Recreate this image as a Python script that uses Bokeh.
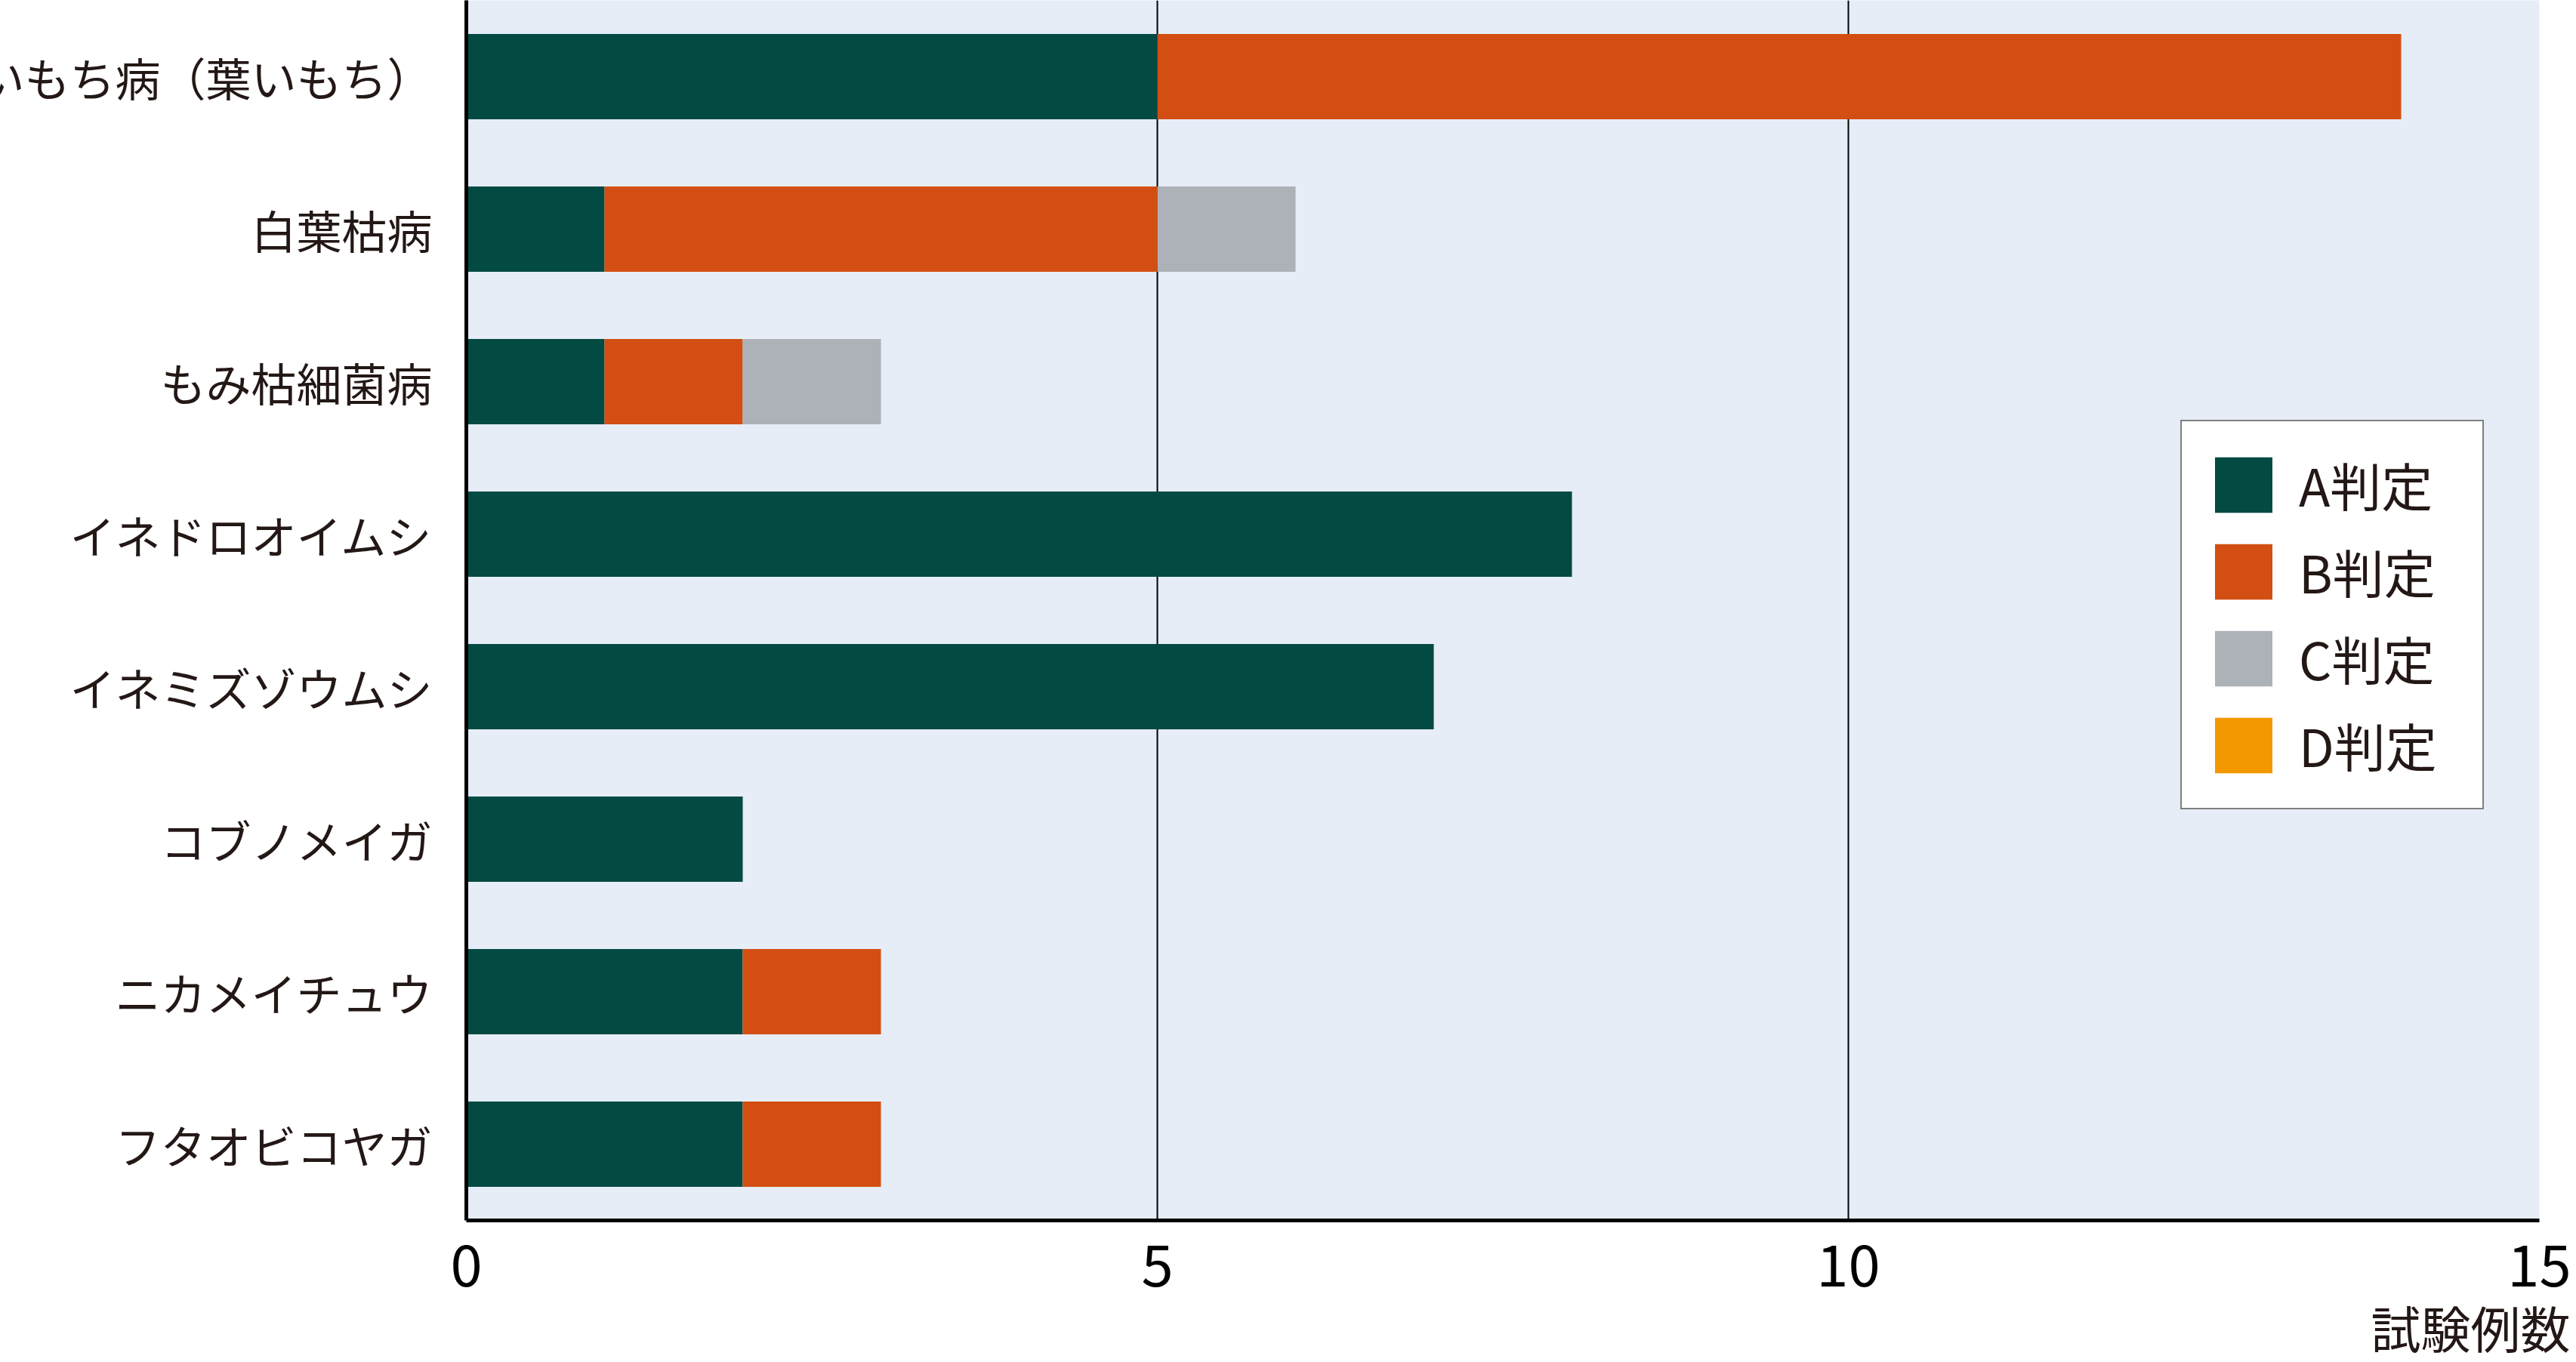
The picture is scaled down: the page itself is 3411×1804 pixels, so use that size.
from bokeh.plotting import figure
from bokeh.models import FactorRange, Range1d, FixedTicker, ColumnDataSource, Title
from bokeh.embed import file_html
from bokeh.resources import INLINE

categories = ["いもち病（葉いもち）", "白葉枯病", "もみ枯細菌病", "イネドロオイムシ",
              "イネミズゾウムシ", "コブノメイガ", "ニカメイチュウ", "フタオビコヤガ"]
a_vals = [5, 1, 1, 8, 7, 2, 2, 2]
b_vals = [9, 4, 1, 0, 0, 0, 1, 1]
c_vals = [0, 1, 1, 0, 0, 0, 0, 0]
d_vals = [0, 0, 0, 0, 0, 0, 0, 0]
series = ["A判定", "B判定", "C判定", "D判定"]
colors = ["#034a43", "#d34e12", "#adb1b8", "#f39800"]
x_ticks = [0, 5, 10, 15]
x_title = "試験例数"

FONT = "Noto Sans CJK JP"
TXT = "#231815"

source = ColumnDataSource(dict(cat=categories, A=a_vals, B=b_vals, C=c_vals, D=d_vals))

p = figure(
    y_range=FactorRange(factors=list(reversed(categories)), range_padding=0),
    x_range=Range1d(0, 15),
    frame_width=2745, height=1804,
    min_border_left=0, min_border_right=48, min_border_top=0, min_border_bottom=0,
    output_backend="svg", toolbar_location=None,
)
p.styles = {"margin-left": "-31px"}

p.hbar_stack(["A", "B", "C", "D"], y="cat", height=0.56, color=colors,
             line_color=None, source=source, legend_label=series)

p.background_fill_color = "#e6edf7"
p.border_fill_color = "white"
p.outline_line_color = None

p.xgrid.ticker = FixedTicker(ticks=[5, 10, 15])
p.xgrid.grid_line_color = "black"
p.xgrid.grid_line_width = 2
p.ygrid.grid_line_color = None

p.xaxis.ticker = FixedTicker(ticks=x_ticks)
for ax in (p.xaxis[0], p.yaxis[0]):
    ax.axis_line_color = "black"
    ax.axis_line_width = 5
    ax.major_tick_out = 0
    ax.major_tick_in = 0
    ax.minor_tick_out = 0
    ax.minor_tick_in = 0
p.xaxis.major_label_text_font = FONT
p.xaxis.major_label_text_font_size = "76px"
p.xaxis.major_label_text_color = "black"
p.xaxis.major_label_standoff = 31
p.yaxis.major_label_text_font = FONT
p.yaxis.major_label_text_font_size = "60px"
p.yaxis.major_label_text_color = TXT
p.yaxis.major_label_standoff = 45

p.add_layout(Title(text=x_title, align="right", offset=-41, standoff=0,
                   text_font=FONT, text_font_size="66px", text_color=TXT,
                   text_font_style="normal"), "below")

lg = p.legend[0]
lg.location = (2270, 544)
lg.border_line_color = "black"
lg.border_line_width = 2
lg.background_fill_color = "white"
lg.background_fill_alpha = 1
lg.padding = 34
lg.spacing = 16
lg.margin = 0
lg.glyph_width = 95
lg.glyph_height = 92
lg.label_height = 92
lg.label_width = 209
lg.label_standoff = 26
lg.label_text_font = FONT
lg.label_text_font_size = "68px"
lg.label_text_color = TXT
lg.label_text_baseline = "middle"

open("out.html", "w").write(file_html(p, INLINE))
